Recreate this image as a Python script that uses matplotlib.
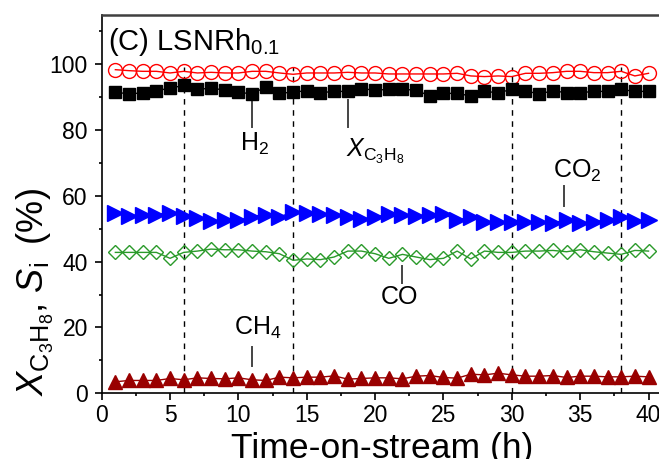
import matplotlib
matplotlib.use("Agg")
import matplotlib.pyplot as plt
import numpy as np

plt.rcParams['font.family'] = ['Liberation Sans', 'DejaVu Sans']
plt.rcParams['mathtext.fontset'] = 'custom'
plt.rcParams['mathtext.rm'] = 'Liberation Sans'
plt.rcParams['mathtext.it'] = 'Liberation Sans:italic'

hours = list(range(1, 41))

s_h2 = [98.3, 98.0, 97.8, 97.8, 97.3, 97.8, 97.3, 97.5, 97.3, 97.3,
        97.8, 97.8, 97.3, 96.9, 97.3, 97.3, 97.3, 97.5, 97.3, 97.3,
        97.0, 97.0, 97.0, 97.0, 97.0, 97.2, 96.4, 96.2, 96.4, 96.2,
        97.2, 97.2, 97.4, 97.8, 97.8, 97.4, 97.4, 97.8, 96.4, 97.2]

x_c3h8 = [91.5, 90.9, 91.3, 91.9, 92.7, 93.5, 92.3, 92.7, 92.1, 91.5,
          90.9, 93.1, 91.1, 91.5, 91.9, 91.3, 91.7, 91.7, 92.5, 92.1,
          92.3, 92.3, 92.1, 90.3, 91.1, 91.1, 90.3, 91.7, 91.3, 92.3,
          91.9, 90.9, 91.9, 91.3, 91.3, 91.7, 91.7, 92.3, 91.7, 91.7]

s_co2 = [54.7, 53.9, 54.3, 54.3, 54.9, 53.9, 53.1, 52.3, 52.5, 52.5,
         53.7, 54.3, 53.5, 55.2, 54.9, 54.5, 54.1, 53.5, 52.9, 53.5,
         54.5, 54.1, 53.9, 54.3, 54.5, 52.5, 53.7, 51.9, 51.9, 51.9,
         51.9, 51.9, 51.7, 52.7, 51.7, 52.1, 52.7, 53.5, 52.3, 52.7]

s_co = [42.8, 42.8, 42.8, 42.8, 41.0, 42.8, 43.2, 43.8, 43.6, 43.6,
        43.2, 43.0, 42.4, 40.4, 40.8, 40.6, 41.4, 43.2, 43.2, 42.4,
        41.0, 42.2, 41.4, 40.6, 41.0, 43.2, 40.8, 43.2, 42.8, 42.8,
        43.2, 43.2, 43.4, 43.0, 43.6, 43.0, 42.6, 42.2, 43.4, 43.2]

s_ch4 = [3.5, 3.9, 3.9, 3.9, 4.5, 4.1, 4.7, 4.5, 4.4, 4.7,
         4.1, 3.9, 4.9, 4.7, 4.9, 4.9, 5.3, 4.3, 4.5, 4.7,
         4.7, 4.4, 5.2, 5.4, 4.8, 4.6, 5.8, 5.6, 6.1, 5.6,
         5.2, 5.2, 5.4, 4.8, 5.2, 5.2, 5.0, 5.0, 5.2, 5.0]

dashed_x = [6, 14, 30, 38]

fig = plt.figure(figsize=(6.59, 4.59), dpi=100)
ax = fig.add_axes([101.7 / 659, (459 - 393.3) / 459, (662.2 - 101.7) / 659, (393.3 - 14.7) / 459])

for xv in dashed_x:
    ax.plot([xv, xv], [0, 99], ls=(0, (4, 4)), color='black', lw=1.0, zorder=1)

ax.plot(hours, s_h2, color='#ff0000', lw=1.0, marker='o', ms=10,
        mfc='none', mec='#ff0000', mew=1.0, zorder=3)
ax.plot(hours, x_c3h8, color='#000000', lw=1.0, marker='s', ms=9.3,
        mfc='#000000', mec='#000000', zorder=3)
ax.plot(hours, s_co2, color='#0000ff', lw=1.0, marker='>', ms=11,
        mfc='#0000ff', mec='#0000ff', zorder=3)
ax.plot(hours, s_co, color='#2a9a2a', lw=1.0, marker='D', ms=7.6,
        mfc='none', mec='#2a9a2a', mew=1.0, zorder=3)
ax.plot(hours, s_ch4, color='#990000', lw=1.0, marker='^', ms=10.5,
        mfc='#990000', mec='#990000', zorder=3)

# leader lines and labels
lc = '#444444'
ax.plot([11, 11], [91, 81], color=lc, lw=1.4, zorder=2)
ax.text(11.2, 75.8, 'H$_2$', fontsize=18, ha='center', va='center')
ax.plot([18, 18], [89, 81], color=lc, lw=1.4, zorder=2)
ax.text(20, 73.5, '$X_{\\mathrm{C_3H_8}}$', fontsize=18, ha='center', va='center')
ax.plot([33.8, 33.8], [63, 57], color=lc, lw=1.4, zorder=2)
ax.text(34.8, 67.7, 'CO$_2$', fontsize=18, ha='center', va='center')
ax.plot([22, 22], [38.8, 33.5], color=lc, lw=1.4, zorder=2)
ax.text(21.8, 29.2, 'CO', fontsize=18, ha='center', va='center')
ax.plot([11, 11], [14.1, 8.3], color=lc, lw=1.4, zorder=2)
ax.text(11.4, 19.8, 'CH$_4$', fontsize=18, ha='center', va='center')

ax.text(0.45, 104.3, '(C) LSNRh$_{0.1}$', fontsize=21, ha='left', va='baseline')

ax.set_xlim(0, 41)
ax.set_ylim(0, 115)
ax.set_xticks(np.arange(0, 41, 5))
ax.set_xticks(np.arange(2.5, 41, 5), minor=True)
ax.set_yticks(np.arange(0, 101, 20))
ax.set_yticks(np.arange(10, 115, 20), minor=True)
ax.tick_params(which='major', direction='out', length=5, width=1.2, labelsize=16.5)
ax.tick_params(axis='x', which='major', pad=2.5)
ax.tick_params(axis='y', which='major', pad=5.0)
ax.tick_params(which='minor', direction='out', length=2.5, width=1.2)

for sp in ['left', 'bottom']:
    ax.spines[sp].set_linewidth(1.2)
    ax.spines[sp].set_color('black')
ax.spines['top'].set_linewidth(1.8)
ax.spines['top'].set_color('#404040')
ax.spines['right'].set_visible(False)

ax.set_xlabel('Time-on-stream (h)', fontsize=25.5, labelpad=4)
fig.text(35 / 659, (459 - 396) / 459,
         '$X_{\\mathrm{C_3H_8}}$, $S_{\\mathrm{i}}$\u2009 (%)',
         fontsize=26, rotation=90, ha='center', va='bottom')

fig.savefig('out.png', dpi=100)
